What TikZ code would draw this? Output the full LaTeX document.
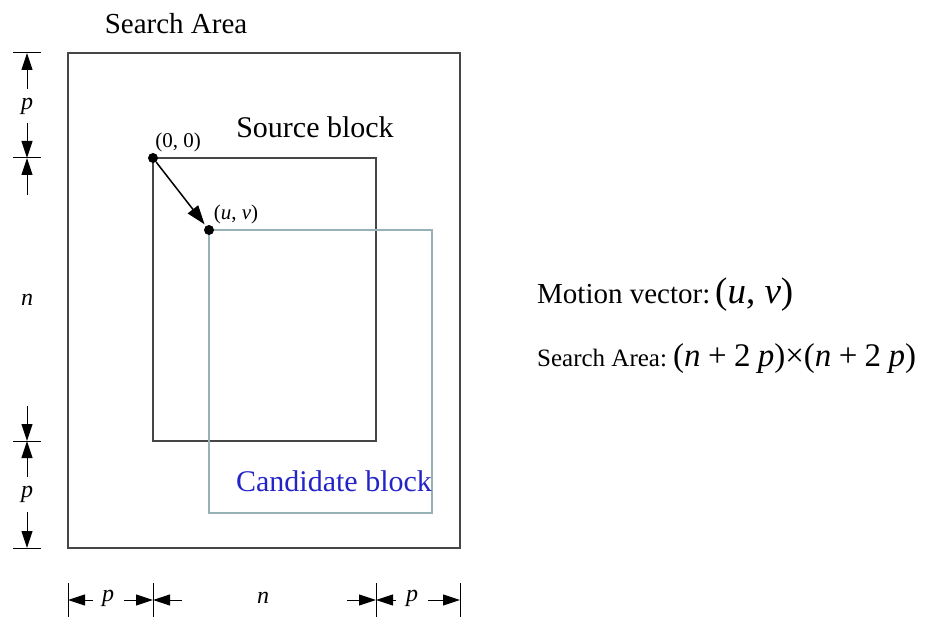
\documentclass[tikz,border=0pt]{standalone}
\usepackage{fontspec}
\setmainfont{Liberation Serif}
\usetikzlibrary{arrows.meta}

\definecolor{frame}{RGB}{70,70,70}
\definecolor{candline}{RGB}{150,178,182}
\definecolor{candtext}{RGB}{35,35,200}

\tikzset{
	blockbox/.style={draw=frame, line width=1.5pt},
	dimarrow/.style={draw=black, line width=1pt, -{Triangle[length=17pt,width=11pt]}},
	dimtick/.style={draw=black, line width=1pt},
	dimlabel/.style={font=\fontsize{24}{26}\selectfont\itshape},
	pointlabel/.style={font=\fontsize{21}{23}\selectfont},
	dot/.style={circle, fill=black, inner sep=0pt, minimum size=10pt}
}

\begin{document}
\begin{tikzpicture}[x=1pt, y=-1pt]
		\useasboundingbox (0,0) rectangle (933,617);
		
		% Search area, source block and candidate block
		\draw[blockbox] (68,53) rectangle (460,548);
		\draw[blockbox] (153,158) rectangle (376,441);
		\draw[draw=candline, line width=1.5pt] (209,230) rectangle (432,513);
		\node[font=\fontsize{29}{32}\selectfont] (area) at (176,24) {Search Area};
		\node[font=\fontsize{30}{32}\selectfont] (src) at (315,127) {Source block};
		\node[font=\fontsize{30}{32}\selectfont, text=candtext] (cand) at (334,481) {Candidate block};
		
		% Motion vector between the two block corners
		\node[dot] (O) at (153,158) {};
		\node[dot] (U) at (209,230) {};
		\draw[line width=1.5pt, -{Triangle[length=19pt,width=13pt]}, shorten >=2pt] (O) -- (U);
		\node[pointlabel] (Olab) at (178,142) {(0, 0)};
		\node[pointlabel] (Ulab) at (236,214) {(\textit{u}, \textit{v})};
		
		% Left dimensions
		\coordinate (L0) at (27,53);
		\coordinate (L1) at (27,158);
		\coordinate (L2) at (27,441);
		\coordinate (L3) at (27,548);
		\draw[dimtick] (13,53) -- (41,53);
		\draw[dimtick] (13,158) -- (41,158);
		\draw[dimtick] (13,441) -- (41,441);
		\draw[dimtick] (13,548) -- (41,548);
		\coordinate (La) at (27,89);
		\coordinate (Lb) at (27,123);
		\coordinate (Lc) at (27,195);
		\coordinate (Ld) at (27,406);
		\coordinate (Le) at (27,477);
		\coordinate (Lf) at (27,512);
		\draw[dimarrow] (La) -- (L0);
		\draw[dimarrow] (Lb) -- (L1);
		\draw[dimarrow] (Lc) -- (L1);
		\draw[dimarrow] (Ld) -- (L2);
		\draw[dimarrow] (Le) -- (L2);
		\draw[dimarrow] (Lf) -- (L3);
		\node[dimlabel] (pl1) at (27,106) {p};
		\node[dimlabel] (nl) at (27,300) {n};
		\node[dimlabel] (pl2) at (27,494) {p};
		
		% Bottom dimensions
		\coordinate (B0) at (68,600);
		\coordinate (B1) at (153,600);
		\coordinate (B2) at (376,600);
		\coordinate (B3) at (460,600);
		\draw[dimtick] (68,583) -- (68,617);
		\draw[dimtick] (153,583) -- (153,617);
		\draw[dimtick] (376,583) -- (376,617);
		\draw[dimtick] (460,583) -- (460,617);
		\coordinate (Ba) at (93,600);
		\coordinate (Bb) at (124,600);
		\coordinate (Bc) at (182,600);
		\coordinate (Bd) at (347,600);
		\coordinate (Be) at (396,600);
		\coordinate (Bf) at (428,600);
		\draw[dimarrow] (Ba) -- (B0);
		\draw[dimarrow] (Bb) -- (B1);
		\draw[dimarrow] (Bc) -- (B1);
		\draw[dimarrow] (Bd) -- (B2);
		\draw[dimarrow] (Be) -- (B2);
		\draw[dimarrow] (Bf) -- (B3);
		\node[dimlabel] (pb1) at (108,598) {p};
		\node[dimlabel] (nb) at (263,598) {n};
		\node[dimlabel] (pb2) at (412,598) {p};
		
		% Summary on the right
		\node[anchor=base west, inner sep=0pt, font=\fontsize{29}{32}\selectfont] (mv) at (537,303)
			{Motion vector:\,{\fontsize{37}{40}\selectfont(\textit{u}, \textit{v})}};
		\node[anchor=base west, inner sep=0pt, font=\fontsize{25}{28}\selectfont] (sa) at (537,366)
			{Search Area:\ {\fontsize{33}{36}\selectfont(\textit{n}\:+\:2\:\textit{p})\texttimes(\textit{n}\:+\:2\:\textit{p})}};
	\end{tikzpicture}
\end{document}
